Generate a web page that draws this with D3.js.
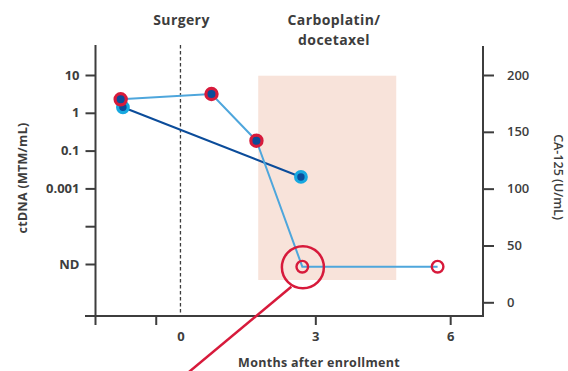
<!DOCTYPE html>
<html>
<head>
<meta charset="utf-8">
<script src="https://cdn.jsdelivr.net/npm/d3@7"></script>
<style>
  html, body { margin: 0; padding: 0; background: #fff; }
  svg text { font-family: "Open Sans", sans-serif; fill: #3d3d3d; }
</style>
</head>
<body>
<svg id="chart" width="568" height="371"></svg>
<script>
// ctDNA (left axis): months after enrollment and log10 MTM/mL; "ND" = not detected
const ctdnaMonths = [-1.33, 0.69, 1.69, 2.71, 5.72];
const ctdnaLog = [0.357, 0.497, -0.738, "ND", "ND"];

// CA-125 (right axis): months after enrollment and U/mL
const ca125Months = [-1.28, 2.68];
const ca125Values = [171.6, 110.3];

// Axis ticks
const leftTickLevels = [1, 0, -1, -3, -4, "ND"];
const leftTickLabels = ["10", "1", "0.1", "0.001", "", "ND"];
const rightTicks = [0, 50, 100, 150, 200];
const bottomTicks = [-0.55, 0, 3, 6];
const bottomTickLabels = ["", "0", "3", "6"];

// Chemotherapy window (months)
const chemoWindow = [1.73, 4.8];
const surgeryMonth = 0;

const svg = d3.select("#chart");

const x = d3.scaleLinear().domain([-1.89, 6.73]).range([95.5, 483]);
// Broken log axis: the step from 0.1 to 0.001 spans two decades; ND sits below
const levelIndex = v => v === "ND" ? -5 : v;
const yLeft = d3.scaleLinear()
  .domain([1, 0, -1, -3, -4, -5])
  .range([75, 112.8, 150.6, 188.4, 226.2, 264]);
const yRight = d3.scaleLinear().domain([0, 200]).range([302.3, 75]);

const red = "#d71a3b", dark = "#0b4c9a", light = "#4ea6dc", cyan = "#17a8e0", axisCol = "#3d3d3d";

// Treatment window shading
svg.append("rect")
  .attr("x", x(chemoWindow[0])).attr("y", yLeft(1) + 0.7)
  .attr("width", x(chemoWindow[1]) - x(chemoWindow[0]))
  .attr("height", 280 - (yLeft(1) + 0.7))
  .attr("fill", "#f8e3da");

// Surgery marker
svg.append("line")
  .attr("x1", x(surgeryMonth)).attr("x2", x(surgeryMonth))
  .attr("y1", 45).attr("y2", 316)
  .attr("stroke", axisCol).attr("stroke-width", 1.3).attr("stroke-dasharray", "3.5,2.5");

// Left axis
const yAxisL = d3.axisLeft(yLeft)
  .tickValues(leftTickLevels.map(levelIndex))
  .tickFormat((d, i) => leftTickLabels[i])
  .tickSize(10).tickPadding(6);
const gL = svg.append("g").attr("transform", "translate(95.5,0)").call(yAxisL);
gL.select(".domain").remove();
gL.append("line").attr("x1", 0).attr("x2", 0).attr("y1", 45).attr("y2", 325)
  .attr("stroke", axisCol).attr("stroke-width", 2);

// Right axis
const yAxisR = d3.axisRight(yRight).tickValues(rightTicks).tickSize(11).tickPadding(13);
const gR = svg.append("g").attr("transform", "translate(483,0)").call(yAxisR);
gR.select(".domain").remove();
gR.append("line").attr("x1", 0).attr("x2", 0).attr("y1", 46).attr("y2", 317)
  .attr("stroke", axisCol).attr("stroke-width", 2);

// Bottom axis
const xAxis = d3.axisBottom(x).tickValues(bottomTicks)
  .tickFormat((d, i) => bottomTickLabels[i]).tickSize(9).tickPadding(7);
const gB = svg.append("g").attr("transform", "translate(0,316)").call(xAxis);
gB.select(".domain").remove();
gB.append("line").attr("x1", 85).attr("x2", 484).attr("y1", 0).attr("y2", 0)
  .attr("stroke", axisCol).attr("stroke-width", 2);
gB.selectAll(".tick").filter(d => d === 0).select("line").remove();

[gL, gR, gB].forEach(g => {
  g.selectAll(".tick line").attr("stroke", axisCol).attr("stroke-width", 2);
  g.selectAll(".tick text").attr("font-size", 13).attr("font-weight", 700)
    .style("font-family", "'Open Sans', sans-serif").attr("fill", axisCol);
});
gR.selectAll(".tick text").attr("font-weight", 600);

// Series
const ctdna = ctdnaMonths.map((m, i) => ({ m, v: ctdnaLog[i] }));
const ca125 = ca125Months.map((m, i) => ({ m, v: ca125Values[i] }));

svg.append("path").datum(ca125)
  .attr("d", d3.line().x(d => x(d.m)).y(d => yRight(d.v)))
  .attr("fill", "none").attr("stroke", dark).attr("stroke-width", 2);

svg.append("path").datum(ctdna)
  .attr("d", d3.line().x(d => x(d.m)).y(d => yLeft(levelIndex(d.v)) + (d.v === "ND" ? 2.7 : 0)))
  .attr("fill", "none").attr("stroke", light).attr("stroke-width", 2);

// CA-125 markers
svg.selectAll(".ca").data(ca125).join("circle")
  .attr("cx", d => x(d.m)).attr("cy", d => yRight(d.v)).attr("r", 5.3)
  .attr("fill", dark).attr("stroke", cyan).attr("stroke-width", 3.2);

// ctDNA markers: filled when detected, open when not
const detected = ctdna.filter(d => d.v !== "ND");
const notDetected = ctdna.filter(d => d.v === "ND");
svg.selectAll(".ct").data(detected).join("circle")
  .attr("cx", d => x(d.m)).attr("cy", d => yLeft(levelIndex(d.v))).attr("r", 5.6)
  .attr("fill", dark).attr("stroke", red).attr("stroke-width", 3.2);
svg.selectAll(".nd").data(notDetected).join("circle")
  .attr("cx", d => x(d.m)).attr("cy", d => yLeft(levelIndex(d.v)) + 2.7).attr("r", 5.8)
  .attr("fill", "none").attr("stroke", red).attr("stroke-width", 2.4);

// Callout on the first undetectable result
const first = notDetected[0];
const cx0 = x(first.m), cy0 = yLeft(levelIndex(first.v)) + 2.7;
svg.append("circle").attr("cx", cx0 + 0.6).attr("cy", cy0 + 0.6).attr("r", 21)
  .attr("fill", "none").attr("stroke", red).attr("stroke-width", 2.5);
svg.append("line")
  .attr("x1", cx0 - 11).attr("y1", cy0 + 20)
  .attr("x2", cx0 - 125).attr("y2", cy0 + 115)
  .attr("stroke", red).attr("stroke-width", 2.5);

// Annotations
svg.append("text").attr("x", x(surgeryMonth) + 1).attr("y", 25).attr("text-anchor", "middle")
  .attr("font-size", 14).attr("font-weight", 700).attr("letter-spacing", 0.4).text("Surgery");
const chemo = svg.append("text").attr("x", 334).attr("y", 25).attr("text-anchor", "middle")
  .attr("font-size", 14).attr("font-weight", 700).attr("letter-spacing", 0.4);
chemo.append("tspan").attr("x", 334).attr("dy", 0).text("Carboplatin/");
chemo.append("tspan").attr("x", 334).attr("dy", 20).text("docetaxel");

// Axis titles
svg.append("text").attr("x", 319).attr("y", 367).attr("text-anchor", "middle")
  .attr("font-size", 12.5).attr("font-weight", 700).attr("letter-spacing", 0.3)
  .text("Months after enrollment");
svg.append("text").attr("transform", "translate(27,178) rotate(-90)")
  .attr("text-anchor", "middle").attr("font-size", 12.5).attr("font-weight", 700)
  .attr("letter-spacing", 0.3).text("ctDNA (MTM/mL)");
svg.append("text").attr("transform", "translate(554,177) rotate(90)")
  .attr("text-anchor", "middle").attr("font-size", 12.5).attr("font-weight", 600)
  .text("CA-125 (U/mL)");
</script>
</body>
</html>
